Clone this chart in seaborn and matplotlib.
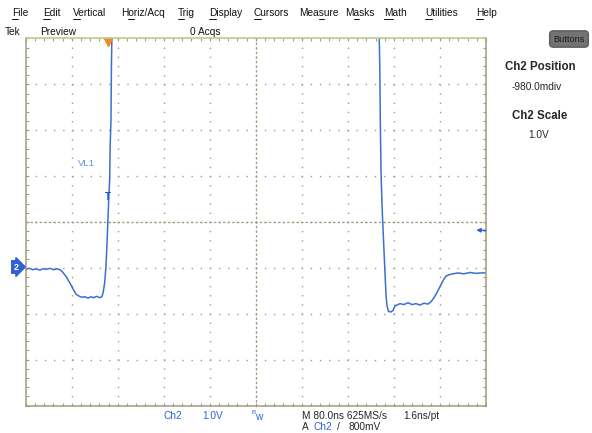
import matplotlib
matplotlib.use("Agg")
import matplotlib.pyplot as plt
import seaborn as sns
import pandas as pd
from matplotlib.font_manager import FontProperties
from matplotlib.lines import Line2D

# Ch2 trace: time in ns (0 = trigger point), level in volts
time_ns = [-143.3, -137, -131, -125, -119, -113, -107, -101, -95, -89, -84,
           -80, -73, -66, -61, -56, -50, -45, -40, -35, -30, -25, -20, -15,
           -11, -8.7, -6.1, -4.0, -2.3, -0.5, 0.9, 2.6, 3.5, 4.9, 5.7, 6.4,
           8.7, 20.8,
           465.5, 470.4, 471.2, 472.1, 473.0, 474.2, 476.0, 478.2, 480.3,
           481.7, 482.9, 484.6, 487.2, 491.6, 495.0, 498.5, 503.7, 507.2,
           514.1, 521.1, 528.0, 535.0, 541.9, 548.9, 555.8, 561.0, 566.2,
           571.4, 576.7, 581.9, 587.1, 592.3, 599.3, 608.0, 618.4, 628.8,
           639.2, 647.9, 656.6]
volts = [-0.05, -0.03, -0.06, -0.04, -0.07, -0.04, -0.05, -0.03, -0.06, -0.04,
         -0.06, -0.10, -0.21, -0.36, -0.48, -0.59, -0.64, -0.66, -0.65, -0.68,
         -0.65, -0.67, -0.64, -0.67, -0.65, -0.56, -0.35, -0.02, 0.41, 0.98,
         1.45, 1.89, 2.65, 3.19, 4.38, 4.95,
         5.4, 6.9,
         6.9, 5.4, 4.95, 4.38, 3.19, 2.10, 1.34, 0.69, 0.11,
         -0.28, -0.61, -0.84, -0.97, -0.98, -0.95, -0.85, -0.82, -0.80,
         -0.82, -0.78, -0.82, -0.80, -0.83, -0.79, -0.81, -0.76, -0.67,
         -0.56, -0.43, -0.30, -0.20, -0.17, -0.15, -0.13, -0.15, -0.12,
         -0.14, -0.13, -0.13]

ns_per_div = 80.0
volt_per_div = 1.0
ch2_position_div = -0.98
trigger_level = 0.8
t_left = -143.3

menu_items = ["File", "Edit", "Vertical", "Horiz/Acq", "Trig", "Display",
              "Cursors", "Measure", "Masks", "Math", "Utilities", "Help"]
menu_hotkey = [0, 0, 0, 1, 0, 0, 0, 3, 1, 0, 0, 0]
menu_x = [12, 43, 73, 121, 178, 209, 254, 299, 345, 384, 425, 476]

blue = "#2f63d3"
trace_blue = "#3b6fd2"
tan = "#a39a80"

sns.set_style("white")
plt.rcParams["font.family"] = ["Liberation Sans", "DejaVu Sans"]
plt.rcParams["lines.scale_dashes"] = False

W, H = 592, 433
fig = plt.figure(figsize=(W / 100, H / 100), dpi=100, facecolor="white")


def put(x, y, s, **kw):
    kw.setdefault("va", "center")
    kw.setdefault("fontsize", 7.3)
    return fig.text(x / W, 1 - y / H, s, **kw)


rect = [25.7 / W, 1 - 405.5 / H, (486 - 25.7) / W, (405.5 - 38.5) / H]
xlim = (t_left, t_left + 10 * ns_per_div)
v_mid = -ch2_position_div * volt_per_div
ylim = (v_mid - 4 * volt_per_div, v_mid + 4 * volt_per_div)
minor_x = [xlim[0] + k * ns_per_div / 5 for k in range(51)]
minor_y = [ylim[0] + k * volt_per_div / 5 for k in range(41)]

# center cross of the graticule (behind the trace)
axc = fig.add_axes(rect, facecolor="white")
axc.set_xlim(xlim)
axc.set_ylim(ylim)
for side in ["top", "right"]:
    axc.spines[side].set_visible(False)
axc.spines["left"].set_position(("data", xlim[0] + 5 * ns_per_div))
axc.spines["bottom"].set_position(("data", v_mid))
for side in ["left", "bottom"]:
    axc.spines[side].set_color(tan)
    axc.spines[side].set_linewidth(0.9)
    axc.spines[side].set_linestyle((0, (0.9, 2.4)))
axc.set_xticks(minor_x)
axc.set_yticks(minor_y)
axc.tick_params(direction="inout", length=4, width=0.8, color=tan,
                labelbottom=False, labelleft=False)
# dotted division grid
for k in range(1, 10):
    axc.axvline(xlim[0] + k * ns_per_div, color=tan, lw=1.0,
                ls=(0, (1.0, 5.6)), zorder=0)
for k in range(1, 8):
    axc.axhline(ylim[0] + k * volt_per_div, color=tan, lw=1.0,
                ls=(0, (1.0, 5.6)), zorder=0)

# main axes with the trace
ax = fig.add_axes(rect, facecolor="none")
df = pd.DataFrame({"time_ns": time_ns, "volts": volts})
sns.lineplot(data=df, x="time_ns", y="volts", sort=False, estimator=None,
             color=trace_blue, lw=1.1, ax=ax)
ax.set_xlim(xlim)
ax.set_ylim(ylim)
ax.set_xlabel("")
ax.set_ylabel("")
ax.set_xticks(minor_x)
ax.set_yticks(minor_y)
ax.tick_params(direction="in", length=2.5, width=0.8, color=tan,
               top=True, right=True, bottom=True, left=True,
               labelbottom=False, labelleft=False)
for side in ["left", "right", "bottom"]:
    ax.spines[side].set_color(tan)
    ax.spines[side].set_linewidth(1.1)
ax.spines["top"].set_color("#b7d08a")
ax.spines["top"].set_linewidth(1.2)

# trigger position, trigger level, cursor
ax.plot([0], [0.99], marker="v", ms=6, color="#f08a24",
        transform=ax.get_xaxis_transform(), clip_on=False)
ax.annotate("", xy=(xlim[1] - 17, trigger_level), xytext=(xlim[1], trigger_level),
            arrowprops=dict(arrowstyle="-|>", color=blue, lw=1.0,
                            mutation_scale=6, shrinkA=0, shrinkB=0))
ax.text(-0.2, 1.52, "T", color="#1d52c4", fontsize=7, fontweight="bold",
        ha="center", va="center")
ax.text(-38, 2.25, "VL1", color="#5e92e6", fontsize=6.8, ha="center",
        va="center")

# ground marker for Ch2
put(16, 267, "2", color="white", fontsize=6.5, fontweight="bold", ha="center",
    bbox=dict(boxstyle="rarrow,pad=0.2", fc=blue, ec=blue))

# menu bar with underlined hotkeys
renderer = fig.canvas.get_renderer()
menu_font = FontProperties(family=["Liberation Sans"], size=7.3)
for label, key, x in zip(menu_items, menu_hotkey, menu_x):
    put(x, 16.5, label, color="#111111", va="baseline", fontproperties=menu_font)
    x0 = x + (renderer.get_text_width_height_descent(label[:key], menu_font, False)[0]
              if key else 0)
    x1 = x + renderer.get_text_width_height_descent(label[:key + 1], menu_font, False)[0]
    fig.add_artist(Line2D([x0 / W, x1 / W], [1 - 18.5 / H] * 2, lw=0.7,
                          color="#111111", transform=fig.transFigure))

put(5, 32, "Tek", color="#111111")
put(40, 32, "Preview", color="#111111")
put(190, 32, "0 Acqs", color="#111111")

# right-hand panel
put(569, 39, "Buttons", fontsize=6.6, ha="center", color="#1a1a1a",
    bbox=dict(boxstyle="round,pad=0.4", fc="#737373", ec="#5c5c5c"))
put(540, 67, "Ch2 Position", fontsize=8.3, fontweight="bold", ha="center")
put(537, 87, "-980.0mdiv", fontsize=7.3, ha="center")
put(540, 116, "Ch2 Scale", fontsize=8.3, fontweight="bold", ha="center")
put(539, 135, "1.0V", fontsize=7.3, ha="center")

# bottom readout
put(164, 416, "Ch2", color=blue)
put(202, 416, "1.0V", color=blue)
put(251, 413, "B", color=blue, fontsize=4.5)
put(255, 417, "w", color=blue)
put(302, 416, "M 80.0ns 625MS/s")
put(403, 416, "1.6ns/pt")
put(302, 426.5, "A")
put(313, 426.5, "Ch2", color=blue)
put(337, 426.5, "/")
put(349, 426.5, "800mV")

fig.savefig("out.png", dpi=100)
